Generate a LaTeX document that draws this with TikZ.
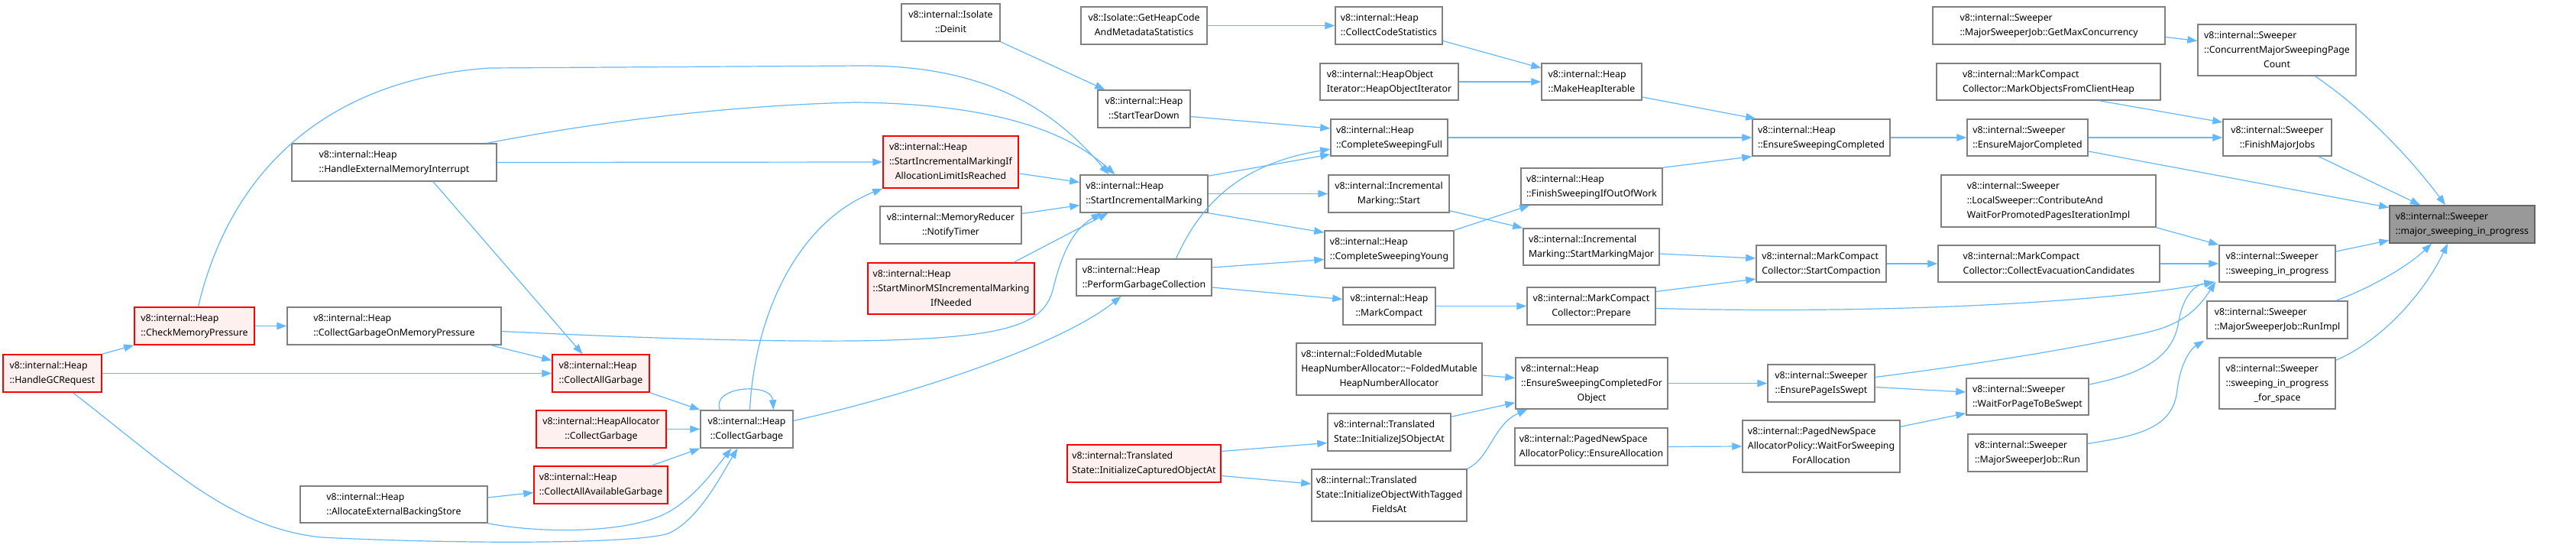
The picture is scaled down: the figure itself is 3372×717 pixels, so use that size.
\documentclass[tikz,border=0pt]{standalone}
\usepackage{fontspec}
\setmainfont{Noto Sans}
\usetikzlibrary{arrows.meta,calc}
\definecolor{edgec}{HTML}{63B8FF}
\definecolor{nodeb}{HTML}{808080}
\definecolor{redb}{HTML}{FF0000}
\definecolor{redf}{HTML}{FFF0F0}
\definecolor{grayf}{HTML}{999999}
\definecolor{grayb}{HTML}{666666}
\newcommand\Lt[1]{\begin{tabular}{@{}l@{}}#1\end{tabular}}
\newcommand\Ct[1]{\begin{tabular}{@{}c@{}}#1\end{tabular}}
\newcommand\Mc[1]{\multicolumn{1}{@{}c@{}}{#1}}
\newcommand\mkbox[7]{\node[#1, minimum width={#4-#2}, minimum height={#5-#3}] (#6) at ({(#2+#4)/2},{(#3+#5)/2}) {#7};}
\tikzset{
 nbox/.style={draw=nodeb, fill=white, line width=1.5pt, inner sep=0pt, text=black, font=\fontsize{12.3}{19}\selectfont},
 rbox/.style={nbox, draw=redb, fill=redf},
 gbox/.style={nbox, draw=grayb, fill=grayf},
 edge/.style={draw=edgec, line width=1.2pt, -{Triangle[length=13pt,width=9.5pt]}},
}
\begin{document}
\begin{tikzpicture}[x=1pt,y=-1pt]
\fill[white] (0,0) rectangle (3372,717);
\useasboundingbox (0,0) rectangle (3372,717);
% nodes
\mkbox{rbox}{4}{464}{133}{513}{hgc}{\Lt{v8::internal::Heap\\::HandleGCRequest}}
\mkbox{rbox}{176}{402}{333}{451}{cmp}{\Lt{v8::internal::Heap\\::CheckMemoryPressure}}
\mkbox{nbox}{376}{402}{656}{451}{cgomp}{\Lt{v8::internal::Heap\\::CollectGarbageOnMemoryPressure}}
\mkbox{nbox}{393}{636}{638}{684}{aebs}{\Lt{v8::internal::Heap\\::AllocateExternalBackingStore}}
\mkbox{nbox}{382}{188}{650}{237}{hemi}{\Lt{v8::internal::Heap\\::HandleExternalMemoryInterrupt}}
\mkbox{rbox}{723}{464}{850}{513}{cag}{\Lt{v8::internal::Heap\\::CollectAllGarbage}}
\mkbox{rbox}{702}{537}{872}{586}{hacg}{\Ct{v8::internal::HeapAllocator\\::CollectGarbage}}
\mkbox{rbox}{699}{610}{874}{659}{caag}{\Lt{v8::internal::Heap\\::CollectAllAvailableGarbage}}
\mkbox{nbox}{917}{537}{1038}{586}{cg}{\Ct{v8::internal::Heap\\::CollectGarbage}}
\mkbox{nbox}{1180}{5}{1309}{54}{deinit}{\Ct{v8::internal::Isolate\\::Deinit}}
\mkbox{nbox}{1415}{9}{1580}{58}{ghcams}{\Ct{v8::Isolate::GetHeapCode\\AndMetadataStatistics}}
\mkbox{nbox}{1437}{118}{1558}{167}{std}{\Ct{v8::internal::Heap\\::StartTearDown}}
\mkbox{rbox}{1156}{178}{1333}{246}{simial}{\Lt{v8::internal::Heap\\::StartIncrementalMarkingIf\\\Mc{AllocationLimitIsReached}}}
\mkbox{nbox}{1414}{229}{1581}{278}{sim}{\Lt{v8::internal::Heap\\::StartIncrementalMarking}}
\mkbox{nbox}{1152}{270}{1337}{319}{nt}{\Ct{v8::internal::MemoryReducer\\::NotifyTimer}}
\mkbox{rbox}{1136}{344}{1354}{411}{smms}{\Lt{v8::internal::Heap\\::StartMinorMSIncrementalMarking\\\Mc{IfNeeded}}}
\mkbox{nbox}{1409}{339}{1586}{387}{pgc}{\Lt{v8::internal::Heap\\::PerformGarbageCollection}}
\mkbox{rbox}{1397}{582}{1598}{631}{icoa}{\Lt{v8::internal::Translated\\State::InitializeCapturedObjectAt}}
\mkbox{nbox}{1748}{9}{1888}{58}{ccs}{\Lt{v8::internal::Heap\\::CollectCodeStatistics}}
\mkbox{nbox}{1728}{83}{1909}{131}{hoi}{\Lt{v8::internal::HeapObject\\Iterator::HeapObjectIterator}}
\mkbox{nbox}{2018}{83}{2149}{131}{mhi}{\Lt{v8::internal::Heap\\::MakeHeapIterable}}
\mkbox{nbox}{1742}{156}{1895}{204}{csf}{\Lt{v8::internal::Heap\\::CompleteSweepingFull}}
\mkbox{nbox}{1739}{229}{1897}{278}{ims}{\Ct{v8::internal::Incremental\\Marking::Start}}
\mkbox{nbox}{1734}{302}{1903}{351}{csy}{\Lt{v8::internal::Heap\\::CompleteSweepingYoung}}
\mkbox{nbox}{1991}{220}{2176}{268}{fsioow}{\Lt{v8::internal::Heap\\::FinishSweepingIfOutOfWork}}
\mkbox{nbox}{1994}{299}{2172}{347}{smm}{\Lt{v8::internal::Incremental\\Marking::StartMarkingMajor}}
\mkbox{nbox}{1758}{376}{1879}{425}{mc}{\Ct{v8::internal::Heap\\::MarkCompact}}
\mkbox{nbox}{1999}{376}{2167}{425}{prep}{\Ct{v8::internal::MarkCompact\\Collector::Prepare}}
\mkbox{nbox}{1697}{449}{1940}{517}{fmhna}{\Lt{v8::internal::FoldedMutable\\HeapNumberAllocator::\textasciitilde FoldedMutable\\\Mc{HeapNumberAllocator}}}
\mkbox{nbox}{1984}{468}{2183}{535}{escfo}{\Lt{v8::internal::Heap\\::EnsureSweepingCompletedFor\\\Mc{Object}}}
\mkbox{nbox}{1738}{541}{1899}{590}{ijsoa}{\Lt{v8::internal::Translated\\State::InitializeJSObjectAt}}
\mkbox{nbox}{1717}{614}{1920}{682}{iowtfa}{\Lt{v8::internal::Translated\\State::InitializeObjectWithTagged\\\Mc{FieldsAt}}}
\mkbox{nbox}{1983}{560}{2183}{609}{eap}{\Lt{v8::internal::PagedNewSpace\\AllocatorPolicy::EnsureAllocation}}
\mkbox{nbox}{2530}{9}{2834}{58}{gmc}{\Lt{v8::internal::Sweeper\\::MajorSweeperJob::GetMaxConcurrency}}
\mkbox{nbox}{2535}{83}{2828}{131}{mofch}{\Lt{v8::internal::MarkCompact\\Collector::MarkObjectsFromClientHeap}}
\mkbox{nbox}{2294}{156}{2474}{204}{esc}{\Lt{v8::internal::Heap\\::EnsureSweepingCompleted}}
\mkbox{nbox}{2575}{156}{2733}{204}{emc}{\Lt{v8::internal::Sweeper\\::EnsureMajorCompleted}}
\mkbox{nbox}{2541}{229}{2822}{297}{cawf}{\Lt{v8::internal::Sweeper\\::LocalSweeper::ContributeAnd\\WaitForPromotedPagesIterationImpl}}
\mkbox{nbox}{2299}{321}{2469}{369}{sc}{\Lt{v8::internal::MarkCompact\\Collector::StartCompaction}}
\mkbox{nbox}{2537}{321}{2827}{369}{cec}{\Lt{v8::internal::MarkCompact\\Collector::CollectEvacuationCandidates}}
\mkbox{nbox}{2314}{477}{2454}{526}{epis}{\Ct{v8::internal::Sweeper\\::EnsurePageIsSwept}}
\mkbox{nbox}{2574}{495}{2734}{543}{wfptbs}{\Lt{v8::internal::Sweeper\\::WaitForPageToBeSwept}}
\mkbox{nbox}{2281}{550}{2487}{618}{wfsfa}{\Lt{v8::internal::PagedNewSpace\\AllocatorPolicy::WaitForSweeping\\\Mc{ForAllocation}}}
\mkbox{nbox}{2576}{568}{2732}{617}{msjr}{\Lt{v8::internal::Sweeper\\::MajorSweeperJob::Run}}
\mkbox{nbox}{2877}{32}{3084}{99}{cmspc}{\Lt{v8::internal::Sweeper\\::ConcurrentMajorSweepingPage\\\Mc{Count}}}
\mkbox{nbox}{2910}{156}{3052}{204}{fmj}{\Ct{v8::internal::Sweeper\\::FinishMajorJobs}}
\mkbox{gbox}{3128}{269}{3318}{318}{msip}{\Lt{v8::internal::Sweeper\\::major\_sweeping\_in\_progress}}
\mkbox{nbox}{2905}{321}{3057}{369}{sip}{\Lt{v8::internal::Sweeper\\::sweeping\_in\_progress}}
\mkbox{nbox}{2889}{394}{3073}{443}{msjri}{\Lt{v8::internal::Sweeper\\::MajorSweeperJob::RunImpl}}
\mkbox{nbox}{2905}{468}{3057}{535}{sipfs}{\Lt{v8::internal::Sweeper\\::sweeping\_in\_progress\\\Mc{\_for\_space}}}
% edges
\draw[edge] (hgc.north east) -- (cmp.south west);
\draw[edge] (hgc.east) -- (cag.west);
\draw[edge] ($(hgc.south)+(27,0)$) .. controls (220,610) and (300,690) .. (420,703) .. controls (600,712) and (830,712) .. (875,698) .. controls (915,680) and (945,620) .. ($(cg.south)+(-12,0)$);
\draw[edge] ($(aebs.east)+(0,-9)$) -- ($(caag.west)+(0,10)$);
\draw[edge] (aebs.south east) .. controls (700,697) and (820,700) .. (875,670) .. controls (910,650) and (935,615) .. ($(cg.south)+(-20,0)$);
\draw[edge] (cag.south east) -- (cg.north west);
\draw[edge] (hacg.east) -- (cg.west);
\draw[edge] ($(caag.north east)+(-22,0)$) -- (cg.south west);
\draw[edge] ($(cg.north)+(-35,0)$) .. controls (930,505) and (1010,500) .. ($(cg.north)+(35,0)$);
\draw[edge] ($(cg.north)+(4,0)$) .. controls (988,410) and (1045,290) .. (simial.south west);
\draw[edge] ($(cg.east)+(0,-11)$) .. controls (1200,515) and (1390,450) .. ($(pgc.south)+(-30,0)$);
\draw[edge] (cmp.east) -- (cgomp.west);
\draw[edge] ($(cmp.north)+(5,0)$) .. controls (300,230) and (420,105) .. (640,89) -- (1130,86) .. controls (1300,86) and (1385,150) .. ($(sim.north)+(-46,0)$);
\draw[edge] ($(hemi.north east)+(-13,0)$) .. controls (780,160) and (950,138) .. (1120,134) .. controls (1310,136) and (1400,175) .. ($(sim.north)+(-38,0)$);
\draw[edge] (hemi.east) -- (simial.west);
\draw[edge] ($(hemi.south)+(51,0)$) -- ($(cag.north)+(-24,0)$);
\draw[edge] ($(cgomp.south east)+(-14,0)$) -- ($(cag.west)+(0,-17)$);
\draw[edge] ($(cgomp.east)+(0,7)$) .. controls (850,443) and (1000,447) .. (1120,446) .. controls (1320,443) and (1365,425) .. (1378,380) .. controls (1390,330) and (1405,300) .. ($(sim.south)+(-56,0)$);
\draw[edge] ($(smms.north)+(82,0)$) -- ($(sim.south)+(-47,0)$);
\draw[edge] ($(simial.east)+(0,15)$) -- ($(sim.west)+(0,-15)$);
\draw[edge] ($(nt.east)+(0,-15)$) -- ($(sim.west)+(0,15)$);
\draw[edge] (deinit.south east) -- ($(std.north west)+(10,0)$);
\draw[edge] (ghcams.east) -- (ccs.west);
\draw[edge] ($(std.east)+(0,10)$) -- ($(csf.west)+(0,-12)$);
\draw[edge] ($(sim.north east)+(0,2)$) -- ($(csf.west)+(0,22)$);
\draw[edge] ($(pgc.north)+(42,0)$) .. controls (1570,270) and (1620,215) .. ($(csf.west)+(0,15)$);
\draw[edge] (sim.east) -- (ims.west);
\draw[edge] (sim.south east) -- ($(csy.north west)+(0,3)$);
\draw[edge] ($(pgc.east)+(0,-13)$) -- ($(csy.west)+(0,13)$);
\draw[edge] ($(pgc.east)+(0,13)$) -- ($(mc.west)+(0,-9)$);
\draw[edge] ($(ccs.east)+(0,20)$) -- ($(mhi.west)+(0,-18)$);
\draw[edge] (hoi.east) -- (mhi.west);
\draw[edge] ($(mhi.east)+(0,20)$) -- ($(esc.north west)+(5,0)$);
\draw[edge] (csf.east) -- (esc.west);
\draw[edge] (fsioow.north east) -- (esc.south west);
\draw[edge] (csy.north east) -- ($(fsioow.south west)+(12,0)$);
\draw[edge] ($(ims.south east)+(0,-3)$) -- (smm.north west);
\draw[edge] ($(smm.east)+(0,9)$) -- ($(sc.west)+(0,-7)$);
\draw[edge] (mc.east) -- (prep.west);
\draw[edge] ($(prep.east)+(0,-19)$) -- ($(sc.west)+(0,20)$);
\draw[edge] ($(prep.east)+(0,3)$) .. controls (2500,412) and (2780,392) .. ($(sip.south west)+(-5,-1)$);
\draw[edge] (sc.east) -- (cec.west);
\draw[edge] (cec.east) -- (sip.west);
\draw[edge] (cawf.south east) -- (sip.north west);
\draw[edge] (esc.east) -- (emc.west);
\draw[edge] (emc.east) -- (fmj.west);
\draw[edge] ($(emc.east)+(0,18)$) -- ($(msip.west)+(0,-22)$);
\draw[edge] ($(mofch.south east)+(-81,0)$) -- ($(fmj.west)+(0,-20)$);
\draw[edge] ($(gmc.east)+(0,15)$) -- ($(cmspc.west)+(0,-12)$);
\draw[edge] ($(cmspc.south)+(50,0)$) .. controls (3090,140) and (3150,200) .. ($(msip.north)+(-22,0)$);
\draw[edge] ($(fmj.south)+(54,0)$) -- ($(msip.north)+(-55,0)$);
\draw[edge] ($(sip.east)+(0,-16)$) -- ($(msip.west)+(0,21)$);
\draw[edge] ($(msjri.north east)+(-16,0)$) .. controls (3100,378) and (3150,350) .. ($(msip.south)+(-40,0)$);
\draw[edge] ($(sipfs.north east)+(0,4)$) .. controls (3120,445) and (3175,380) .. ($(msip.south)+(-19,0)$);
\draw[edge] ($(epis.east)+(0,5)$) -- ($(wfptbs.west)+(0,-6)$);
\draw[edge] ($(epis.east)+(0,-8)$) .. controls (2600,475) and (2720,455) .. (2810,435) .. controls (2860,424) and (2880,400) .. ($(sip.south west)+(-4,-1)$);
\draw[edge] ($(wfptbs.east)+(0,-16)$) .. controls (2800,490) and (2845,470) .. (2852,420) .. controls (2858,385) and (2875,372) .. ($(sip.south west)+(-6,0)$);
\draw[edge] ($(wfsfa.north east)+(0,9)$) -- ($(wfptbs.south west)+(0,-3)$);
\draw[edge] (eap.east) -- (wfsfa.west);
\draw[edge] (escfo.east) -- (epis.west);
\draw[edge] ($(fmhna.east)+(0,8)$) -- ($(escfo.west)+(0,-7)$);
\draw[edge] ($(ijsoa.north east)+(0,5)$) -- ($(escfo.south west)+(0,-9)$);
\draw[edge] (iowtfa.north east) .. controls (1950,600) and (1955,555) .. ($(escfo.south west)+(16,0)$);
\draw[edge] ($(icoa.east)+(0,-16)$) -- ($(ijsoa.west)+(0,14)$);
\draw[edge] ($(icoa.east)+(0,16)$) -- ($(iowtfa.west)+(0,-15)$);
\draw[edge] ($(msjr.east)+(0,-12)$) .. controls (2800,570) and (2845,560) .. (2850,510) .. controls (2855,470) and (2870,455) .. ($(msjri.south west)+(-3,2)$);
\end{tikzpicture}
\end{document}
